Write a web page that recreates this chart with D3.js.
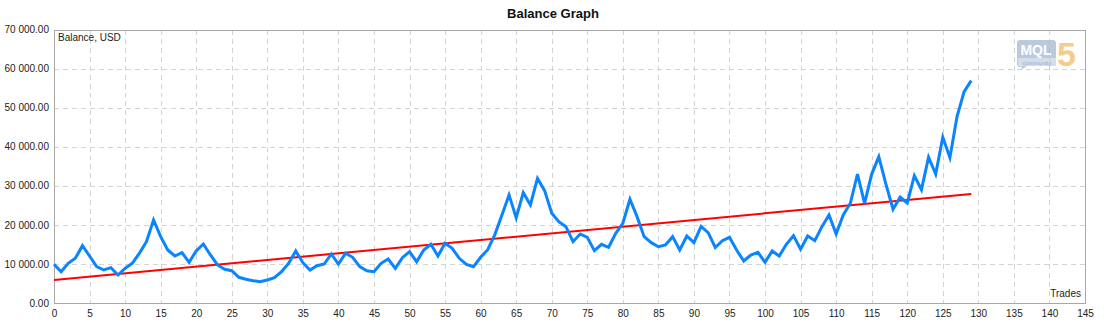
<!DOCTYPE html>
<html>
<head>
<meta charset="utf-8">
<script src="https://cdn.jsdelivr.net/npm/d3@7"></script>
<style>
  html, body { margin: 0; padding: 0; background: #fff; }
  svg { display: block; font-family: "Liberation Sans", Arial, sans-serif; }
</style>
</head>
<body>
<svg id="chart" width="1104" height="328"></svg>
<script>
// Account balance after each closed trade
const balance = [
  9900, 8000, 10150, 11440, 14680, 12030, 9300, 8450, 9040, 7170,
  8880, 10160, 12720, 15700, 21250, 16980, 13570, 12030, 12880, 10420,
  13350, 15100, 12290, 9730, 8630, 8270, 6580, 6070, 5710, 5460,
  5890, 6480, 8010, 10160, 13310, 10320, 8450, 9550, 9980, 12540,
  9980, 12720, 11700, 9300, 8270, 8010, 10160, 11260, 8880, 11600,
  13130, 10570, 13570, 15020, 12030, 15280, 14000, 11440, 9900, 9300,
  11700, 13650, 17500, 22500, 27650, 21800, 28240, 25090, 31920, 28750,
  22960, 20820, 19540, 15700, 17660, 16820, 13390, 15020, 14260, 17840,
  20400, 26550, 22100, 16980, 15440, 14410, 14850, 16980, 13570, 17150,
  15440, 19600, 18000, 14200, 15950, 16820, 13570, 10750, 12290, 12980,
  10420, 13310, 12030, 15020, 17230, 13740, 17150, 15950, 19540, 22530,
  17660, 22530, 25520, 33020, 25520, 33000, 37450, 30400, 24000, 27100,
  25600, 32600, 29000, 37300, 33000, 42420, 37200, 47690, 54100, 56910
];

// Linear trend of the balance: [trade, value] at both ends
const trendTrades = [0, 129];
const trendValues = [5900, 27900];

// Axis tick values
const xTicks = [0,5,10,15,20,25,30,35,40,45,50,55,60,65,70,75,80,85,90,95,100,105,110,115,120,125,130,135,140,145];
const yTicks = [0, 10000, 20000, 30000, 40000, 50000, 60000, 70000];

const title = "Balance Graph";
const yTitle = "Balance, USD";
const xTitle = "Trades";

const svg = d3.select("#chart");
const plotL = 54, plotR = 1085, plotT = 29.5, plotB = 303;

const x = d3.scaleLinear().domain([0, 145]).range([plotL, plotR]);
const y = d3.scaleLinear().domain([0, 70000]).range([plotB, plotT]);

const fmt = v => d3.format(",.2f")(v).replace(/,/g, " ");

// dashed grid
const grid = svg.append("g").attr("stroke", "#d4d4d4").attr("stroke-width", 1)
  .attr("stroke-dasharray", "5,4").attr("shape-rendering", "crispEdges");
grid.selectAll("line.v").data(xTicks.slice(1, -1)).join("line")
  .attr("x1", d => Math.round(x(d)) + 0.5).attr("x2", d => Math.round(x(d)) + 0.5)
  .attr("y1", plotT).attr("y2", plotB);
grid.selectAll("line.h").data(yTicks.slice(1, -1)).join("line")
  .attr("y1", d => Math.round(y(d)) + 0.5).attr("y2", d => Math.round(y(d)) + 0.5)
  .attr("x1", plotL).attr("x2", plotR);

// plot frame
svg.append("rect")
  .attr("x", plotL + 0.5).attr("y", Math.round(plotT) + 0.5)
  .attr("width", plotR - plotL).attr("height", plotB - Math.round(plotT))
  .attr("fill", "none").attr("stroke", "#a8a8a8").attr("shape-rendering", "crispEdges");

// axes labels via d3 axes (no tick marks or domain)
const xAxis = svg.append("g").attr("transform", `translate(0,${plotB})`)
  .call(d3.axisBottom(x).tickValues(xTicks).tickSize(0).tickPadding(7).tickFormat(d3.format("d")));
xAxis.select(".domain").remove();
xAxis.selectAll("text").attr("font-size", 10).attr("fill", "#222")
  .attr("font-family", "Liberation Sans, Arial, sans-serif");

const yAxis = svg.append("g").attr("transform", `translate(${plotL},0)`)
  .call(d3.axisLeft(y).tickValues(yTicks).tickSize(0).tickPadding(5).tickFormat(fmt));
yAxis.select(".domain").remove();
yAxis.selectAll("text").attr("font-size", 10).attr("fill", "#222")
  .attr("font-family", "Liberation Sans, Arial, sans-serif");

// titles
svg.append("text").attr("x", 553).attr("y", 18).attr("text-anchor", "middle")
  .attr("font-size", 13).attr("font-weight", "bold").attr("fill", "#111").text(title);
svg.append("text").attr("x", 58).attr("y", 41).attr("font-size", 10).attr("fill", "#222").text(yTitle);
svg.append("text").attr("x", 1081).attr("y", 297).attr("text-anchor", "end")
  .attr("font-size", 10).attr("fill", "#222").text(xTitle);

// community logo
const logo = svg.append("g").attr("opacity", 0.7);
logo.append("path")
  .attr("d", "M1020,40 h33 a3,3 0 0 1 3,3 v20 a3,3 0 0 1 -3,3 h-26 l-6,4 l1,-4 a3,3 0 0 1 -5,-3 v-20 a3,3 0 0 1 3,-3 z")
  .attr("fill", "#9fb3d0");
logo.append("rect").attr("x", 1018).attr("y", 58).attr("width", 38).attr("height", 8).attr("fill", "#c2d0e4");
logo.append("text").attr("x", 1036).attr("y", 55).attr("text-anchor", "middle")
  .attr("font-size", 14).attr("font-weight", "bold").attr("fill", "#fff").text("MQL");
logo.append("text").attr("x", 1037).attr("y", 64.5).attr("text-anchor", "middle")
  .attr("font-size", 6).attr("fill", "#6f8ab5").text("community");
logo.append("text").attr("x", 1057).attr("y", 65.5).attr("font-size", 34).attr("font-weight", "bold")
  .attr("fill", "#f0b95c").text("5");

// trend line
svg.append("path")
  .datum(trendTrades.map((t, i) => [t, trendValues[i]]))
  .attr("d", d3.line().x(d => x(d[0])).y(d => y(d[1])))
  .attr("fill", "none").attr("stroke", "#ff0000").attr("stroke-width", 2);

// balance line
svg.append("path")
  .datum(balance)
  .attr("d", d3.line().x((d, i) => x(i)).y(d => y(d)))
  .attr("fill", "none").attr("stroke", "#0a84ff").attr("stroke-width", 3)
  .attr("stroke-linejoin", "miter");
</script>
</body>
</html>
